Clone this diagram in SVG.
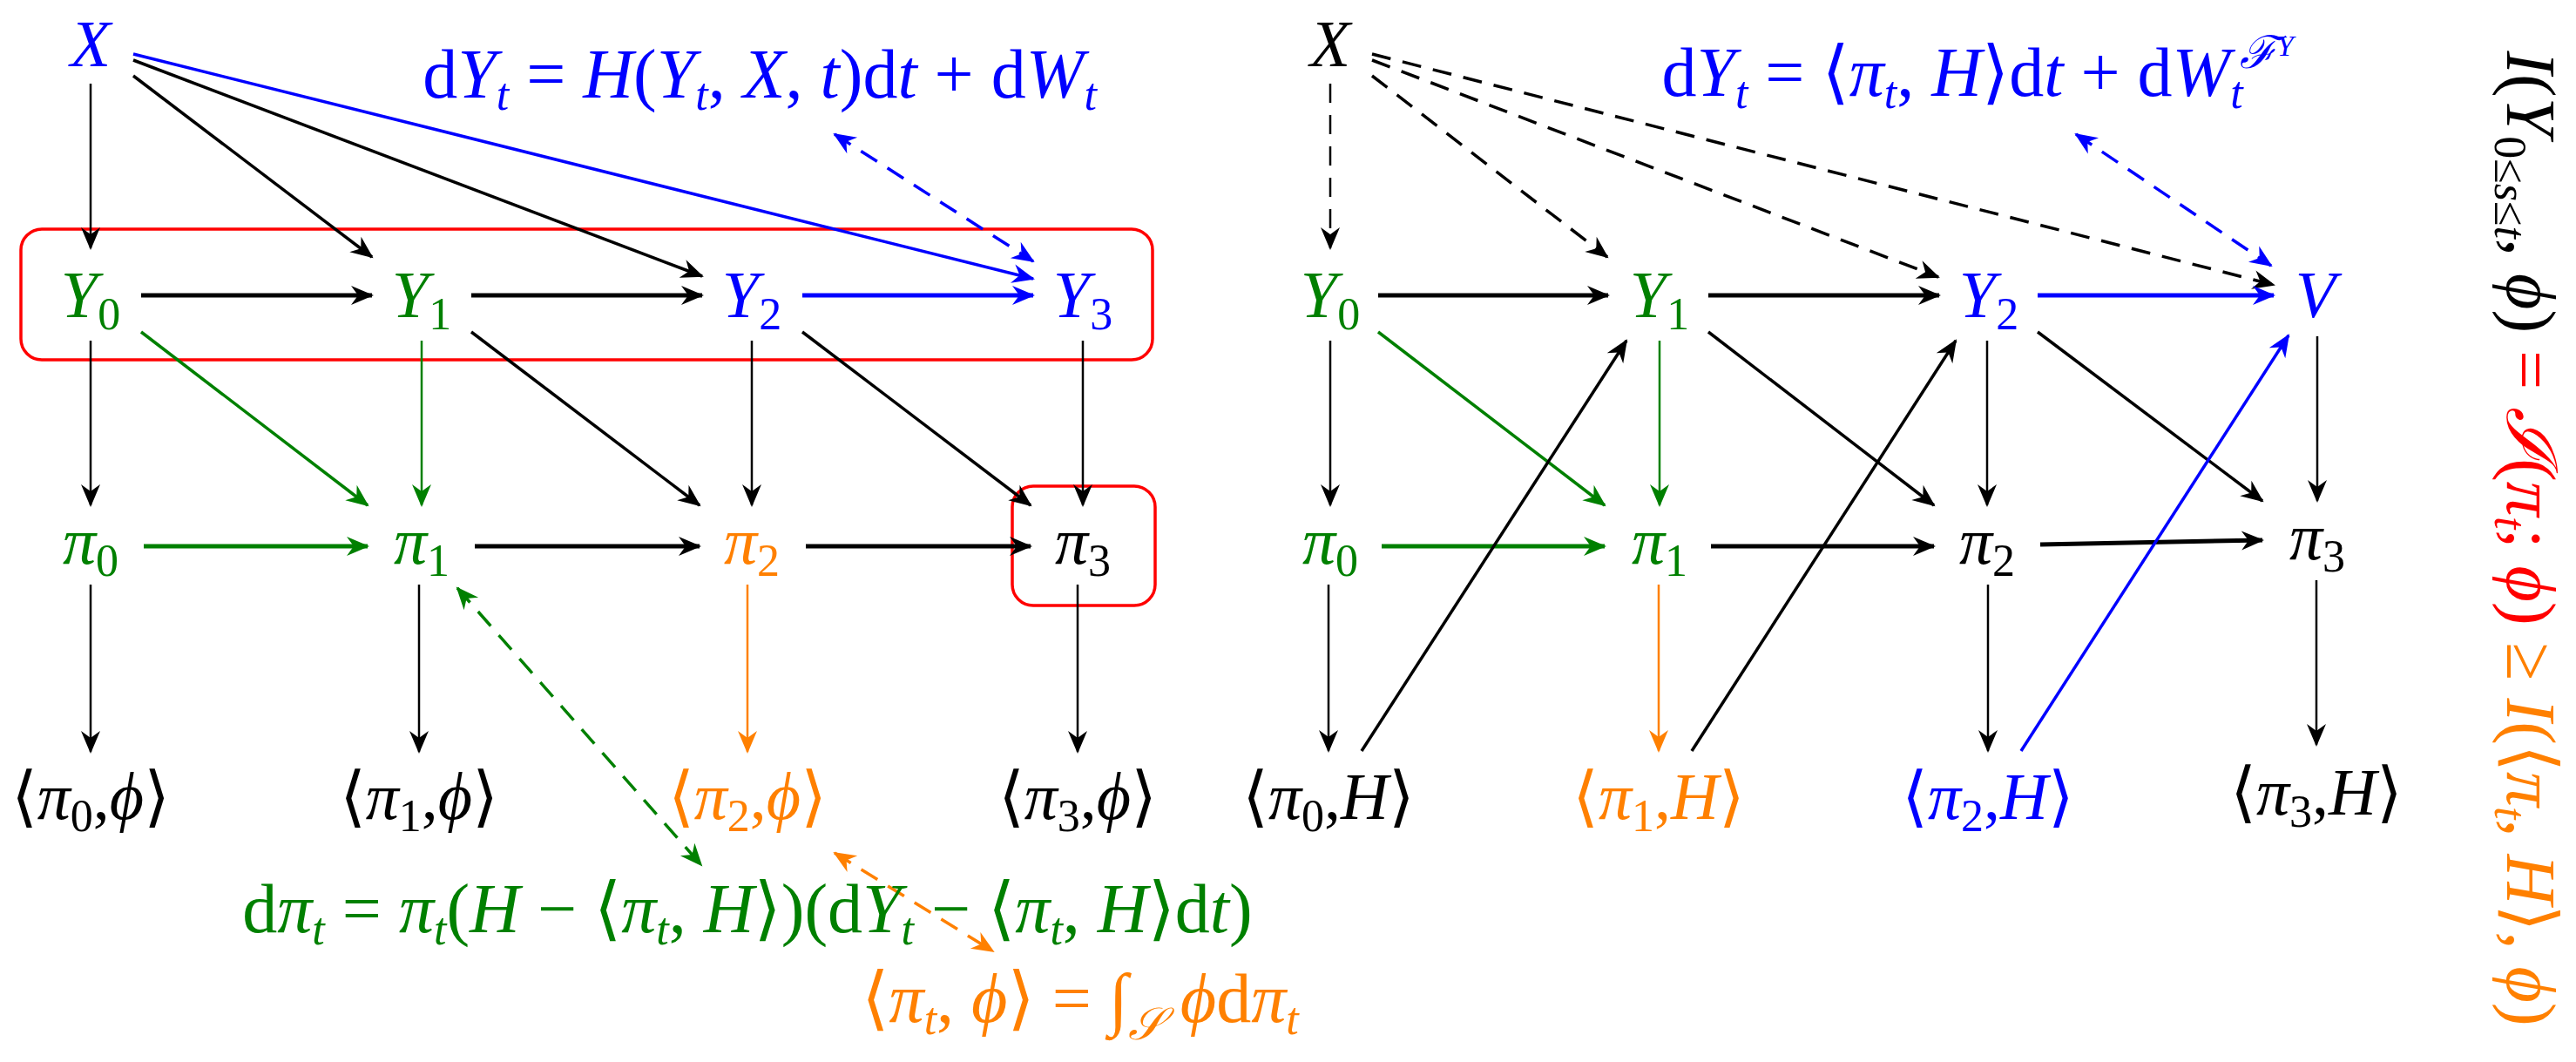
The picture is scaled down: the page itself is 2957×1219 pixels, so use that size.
<svg xmlns="http://www.w3.org/2000/svg" width="2957" height="1219" viewBox="0 0 2957 1219">
<style>
text{font-family:"Liberation Serif","DejaVu Serif",serif;font-size:76px;text-anchor:middle}
.q{font-size:80px}
.i{font-style:italic}
.s{font-size:52px}
.k{fill:#000}.g{fill:#008000}.b{fill:#0000ff}.o{fill:#ff8000}.r{fill:#ff0000}
.e{fill:none;stroke-width:2.5}
.t{stroke-width:5}.m{stroke-width:3.5}
.d{stroke-dasharray:22 14}
.ek{stroke:#000;marker-end:url(#ak)}
.eg{stroke:#008000;marker-end:url(#ag)}
.eb{stroke:#0000ff;marker-end:url(#ab)}
.eo{stroke:#ff8000;marker-end:url(#ao)}
</style>
<defs>
<marker id="ak" markerUnits="userSpaceOnUse" viewBox="-26 -12 30 24" refX="0" refY="0" markerWidth="30" markerHeight="24" orient="auto-start-reverse"><path d="M2,0 L-24,-11 L-16,0 L-24,11 Z" fill="#000"/></marker>
<marker id="ag" markerUnits="userSpaceOnUse" viewBox="-26 -12 30 24" refX="0" refY="0" markerWidth="30" markerHeight="24" orient="auto-start-reverse"><path d="M2,0 L-24,-11 L-16,0 L-24,11 Z" fill="#008000"/></marker>
<marker id="ab" markerUnits="userSpaceOnUse" viewBox="-26 -12 30 24" refX="0" refY="0" markerWidth="30" markerHeight="24" orient="auto-start-reverse"><path d="M2,0 L-24,-11 L-16,0 L-24,11 Z" fill="#0000ff"/></marker>
<marker id="ao" markerUnits="userSpaceOnUse" viewBox="-26 -12 30 24" refX="0" refY="0" markerWidth="30" markerHeight="24" orient="auto-start-reverse"><path d="M2,0 L-24,-11 L-16,0 L-24,11 Z" fill="#ff8000"/></marker>
</defs>
<rect width="2957" height="1219" fill="#fff"/>

<g id="boxes" fill="none" stroke="#ff0000" stroke-width="3.5">
<rect x="24" y="263" width="1299" height="150" rx="24"/>
<rect x="1162" y="558" width="164" height="137" rx="24"/>
</g>

<g id="connectors">
<line class="e ek" x1="104" y1="96" x2="104" y2="285"/>
<line class="e m ek" x1="153" y1="87" x2="427" y2="295"/>
<line class="e m ek" x1="153" y1="69" x2="806" y2="317"/>
<line class="e m eb" x1="153" y1="62" x2="1186" y2="320"/>
<line class="e t ek" x1="162" y1="339" x2="427" y2="339"/>
<line class="e t ek" x1="541" y1="339" x2="806" y2="339"/>
<line class="e t eb" x1="921" y1="339" x2="1186" y2="339"/>
<line class="e ek" x1="104" y1="391" x2="104" y2="580"/>
<line class="e eg" x1="484" y1="391" x2="484" y2="580"/>
<line class="e ek" x1="863" y1="391" x2="863" y2="580"/>
<line class="e ek" x1="1243" y1="391" x2="1243" y2="580"/>
<line class="e m eg" x1="162" y1="381" x2="422" y2="580"/>
<line class="e m ek" x1="541" y1="381" x2="803" y2="580"/>
<line class="e m ek" x1="921" y1="381" x2="1183" y2="580"/>
<line class="e t eg" x1="165" y1="627" x2="422" y2="627"/>
<line class="e t ek" x1="545" y1="627" x2="803" y2="627"/>
<line class="e t ek" x1="925" y1="627" x2="1183" y2="627"/>
<line class="e ek" x1="104" y1="671" x2="104" y2="863"/>
<line class="e ek" x1="481" y1="671" x2="481" y2="863"/>
<line class="e eo" x1="858" y1="671" x2="858" y2="863"/>
<line class="e ek" x1="1237" y1="671" x2="1237" y2="863"/>
<line class="e m d eb" style="marker-start:url(#ab)" x1="958" y1="154" x2="1186" y2="300"/>
<line class="e m d eg" style="marker-start:url(#ag)" x1="525" y1="675" x2="805" y2="993"/>
<line class="e m d eo" style="marker-start:url(#ao)" x1="958" y1="979" x2="1140" y2="1092"/>
<line class="e d ek" x1="1527" y1="96" x2="1527" y2="285"/>
<line class="e m d ek" x1="1575" y1="87" x2="1845" y2="295"/>
<line class="e m d ek" x1="1575" y1="69" x2="2225" y2="318"/>
<line class="e m d ek" x1="1575" y1="62" x2="2610" y2="327"/>
<line class="e t ek" x1="1582" y1="339" x2="1846" y2="339"/>
<line class="e t ek" x1="1961" y1="339" x2="2226" y2="339"/>
<line class="e t eb" x1="2339" y1="339" x2="2610" y2="339"/>
<line class="e ek" x1="1527" y1="391" x2="1527" y2="580"/>
<line class="e eg" x1="1905" y1="391" x2="1905" y2="580"/>
<line class="e ek" x1="2281" y1="391" x2="2281" y2="580"/>
<line class="e ek" x1="2660" y1="386" x2="2660" y2="575"/>
<line class="e m eg" x1="1582" y1="381" x2="1842" y2="580"/>
<line class="e m ek" x1="1961" y1="381" x2="2220" y2="580"/>
<line class="e m ek" x1="2339" y1="381" x2="2597" y2="575"/>
<line class="e t eg" x1="1586" y1="627" x2="1842" y2="627"/>
<line class="e t ek" x1="1964" y1="627" x2="2220" y2="627"/>
<line class="e t ek" x1="2342" y1="625" x2="2597" y2="620"/>
<line class="e ek" x1="1525" y1="671" x2="1525" y2="862"/>
<line class="e eo" x1="1904" y1="671" x2="1904" y2="862"/>
<line class="e ek" x1="2282" y1="671" x2="2282" y2="862"/>
<line class="e ek" x1="2659" y1="666" x2="2659" y2="855"/>
<line class="e m ek" x1="1563" y1="862" x2="1867" y2="391"/>
<line class="e m ek" x1="1942" y1="862" x2="2245" y2="391"/>
<line class="e m eb" x1="2320" y1="862" x2="2627" y2="385"/>
<line class="e m d eb" style="marker-start:url(#ab)" x1="2383" y1="154" x2="2607" y2="305"/>
</g>

<g id="X_L"><text x="104" y="76" class="i b">X</text></g>
<g id="Y0_L"><text x="104" y="364" class="g"><tspan class="i">Y</tspan><tspan class="s" dy="14">0</tspan></text></g>
<g id="Y1_L"><text x="484" y="364" class="g"><tspan class="i">Y</tspan><tspan class="s" dy="14">1</tspan></text></g>
<g id="Y2_L"><text x="863" y="364" class="b"><tspan class="i">Y</tspan><tspan class="s" dy="14">2</tspan></text></g>
<g id="Y3_L"><text x="1243" y="364" class="b"><tspan class="i">Y</tspan><tspan class="s" dy="14">3</tspan></text></g>
<g id="p0_L"><text x="104" y="647" class="g"><tspan class="i">π</tspan><tspan class="s" dy="14">0</tspan></text></g>
<g id="p1_L"><text x="484" y="647" class="g"><tspan class="i">π</tspan><tspan class="s" dy="14">1</tspan></text></g>
<g id="p2_L"><text x="863" y="647" class="o"><tspan class="i">π</tspan><tspan class="s" dy="14">2</tspan></text></g>
<g id="p3_L"><text x="1243" y="647" class="k"><tspan class="i">π</tspan><tspan class="s" dy="14">3</tspan></text></g>
<g id="f0"><text x="104" y="940" class="k">⟨<tspan class="i">π</tspan><tspan class="s" dy="14">0</tspan><tspan dy="-14">,</tspan><tspan class="i">ϕ</tspan>⟩</text></g>
<g id="f1"><text x="481" y="940" class="k">⟨<tspan class="i">π</tspan><tspan class="s" dy="14">1</tspan><tspan dy="-14">,</tspan><tspan class="i">ϕ</tspan>⟩</text></g>
<g id="f2"><text x="858" y="940" class="o">⟨<tspan class="i">π</tspan><tspan class="s" dy="14">2</tspan><tspan dy="-14">,</tspan><tspan class="i">ϕ</tspan>⟩</text></g>
<g id="f3"><text x="1237" y="940" class="k">⟨<tspan class="i">π</tspan><tspan class="s" dy="14">3</tspan><tspan dy="-14">,</tspan><tspan class="i">ϕ</tspan>⟩</text></g>

<g id="X_R"><text x="1527" y="76" class="i k">X</text></g>
<g id="Y0_R"><text x="1527" y="364" class="g"><tspan class="i">Y</tspan><tspan class="s" dy="14">0</tspan></text></g>
<g id="Y1_R"><text x="1905" y="364" class="g"><tspan class="i">Y</tspan><tspan class="s" dy="14">1</tspan></text></g>
<g id="Y2_R"><text x="2283" y="364" class="b"><tspan class="i">Y</tspan><tspan class="s" dy="14">2</tspan></text></g>
<g id="V_R"><text x="2658" y="364" class="i b">V</text></g>
<g id="p0_R"><text x="1527" y="647" class="g"><tspan class="i">π</tspan><tspan class="s" dy="14">0</tspan></text></g>
<g id="p1_R"><text x="1905" y="647" class="g"><tspan class="i">π</tspan><tspan class="s" dy="14">1</tspan></text></g>
<g id="p2_R"><text x="2281" y="647" class="k"><tspan class="i">π</tspan><tspan class="s" dy="14">2</tspan></text></g>
<g id="p3_R"><text x="2660" y="642" class="k"><tspan class="i">π</tspan><tspan class="s" dy="14">3</tspan></text></g>
<g id="h0"><text x="1525" y="940" class="k">⟨<tspan class="i">π</tspan><tspan class="s" dy="14">0</tspan><tspan dy="-14">,</tspan><tspan class="i">H</tspan>⟩</text></g>
<g id="h1"><text x="1904" y="940" class="o">⟨<tspan class="i">π</tspan><tspan class="s" dy="14">1</tspan><tspan dy="-14">,</tspan><tspan class="i">H</tspan>⟩</text></g>
<g id="h2"><text x="2282" y="940" class="b">⟨<tspan class="i">π</tspan><tspan class="s" dy="14">2</tspan><tspan dy="-14">,</tspan><tspan class="i">H</tspan>⟩</text></g>
<g id="h3"><text x="2659" y="935" class="k">⟨<tspan class="i">π</tspan><tspan class="s" dy="14">3</tspan><tspan dy="-14">,</tspan><tspan class="i">H</tspan>⟩</text></g>

<g id="eqL"><text x="872" y="112" class="b q">d<tspan class="i">Y</tspan><tspan class="s i" dy="14">t</tspan><tspan dy="-14"> = </tspan><tspan class="i">H</tspan>(<tspan class="i">Y</tspan><tspan class="s i" dy="14">t</tspan><tspan dy="-14">, </tspan><tspan class="i">X</tspan>, <tspan class="i">t</tspan>)d<tspan class="i">t</tspan> + d<tspan class="i">W</tspan><tspan class="s i" dy="14">t</tspan></text></g>
<g id="eqR"><text x="2270" y="110" class="b q">d<tspan class="i">Y</tspan><tspan class="s i" dy="14">t</tspan><tspan dy="-14"> = ⟨</tspan><tspan class="i">π</tspan><tspan class="s i" dy="14">t</tspan><tspan dy="-14">, </tspan><tspan class="i">H</tspan>⟩d<tspan class="i">t</tspan> + d<tspan class="i">W</tspan><tspan class="s i" dy="14">t</tspan><tspan class="s i" dy="-46" dx="-4">ℱ</tspan><tspan class="i" style="font-size:34px" dy="-14">Y</tspan></text></g>
<g id="eqG"><text x="858" y="1070" class="g q">d<tspan class="i">π</tspan><tspan class="s i" dy="14">t</tspan><tspan dy="-14"> = </tspan><tspan class="i">π</tspan><tspan class="s i" dy="14">t</tspan><tspan dy="-14">(</tspan><tspan class="i">H</tspan> − ⟨<tspan class="i">π</tspan><tspan class="s i" dy="14">t</tspan><tspan dy="-14">, </tspan><tspan class="i">H</tspan>⟩)(d<tspan class="i">Y</tspan><tspan class="s i" dy="14">t</tspan><tspan dy="-14"> − ⟨</tspan><tspan class="i">π</tspan><tspan class="s i" dy="14">t</tspan><tspan dy="-14">, </tspan><tspan class="i">H</tspan>⟩d<tspan class="i">t</tspan>)</text></g>
<g id="eqO"><text x="1240" y="1173" class="o q">⟨<tspan class="i">π</tspan><tspan class="s i" dy="14">t</tspan><tspan dy="-14">, </tspan><tspan class="i">ϕ</tspan>⟩ = ∫<tspan class="s i" dy="20">𝒮</tspan><tspan dy="-20" class="i"> ϕ</tspan>d<tspan class="i">π</tspan><tspan class="s i" dy="14">t</tspan></text></g>

<g id="info"><text transform="translate(2878,618) rotate(90)" style="font-size:80px"><tspan class="i k">I</tspan><tspan class="k">(</tspan><tspan class="i k">Y</tspan><tspan class="s k" dy="14">0≤<tspan class="i">s</tspan>≤<tspan class="i">t</tspan></tspan><tspan class="k" dy="-14">, </tspan><tspan class="i k">ϕ</tspan><tspan class="k">) </tspan><tspan class="r">= </tspan><tspan class="i r">ℐ</tspan><tspan class="r">(</tspan><tspan class="i r">π</tspan><tspan class="s i r" dy="14">t</tspan><tspan class="r" dy="-14">; </tspan><tspan class="i r">ϕ</tspan><tspan class="r">) </tspan><tspan class="o">≥ </tspan><tspan class="i o">I</tspan><tspan class="o">(⟨</tspan><tspan class="i o">π</tspan><tspan class="s i o" dy="14">t</tspan><tspan class="o" dy="-14">, </tspan><tspan class="i o">H</tspan><tspan class="o">⟩, </tspan><tspan class="i o">ϕ</tspan><tspan class="o">)</tspan></text></g>
</svg>
